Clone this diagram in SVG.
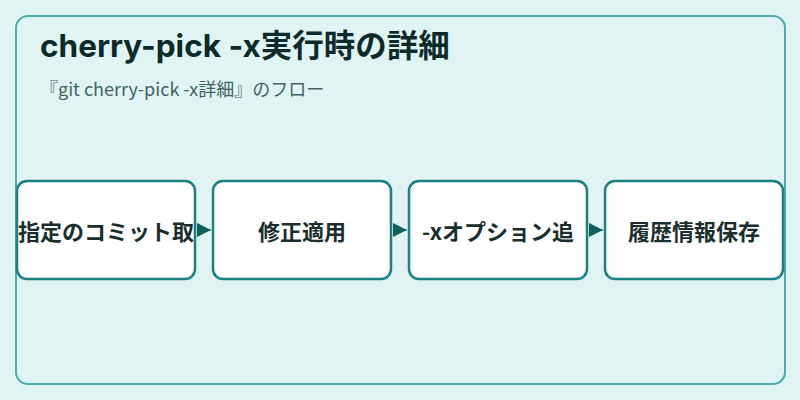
<svg xmlns="http://www.w3.org/2000/svg" width="800" height="400" viewBox="0 0 800 400">
<defs>
<style>
.frame{fill:#e0f4f3;stroke:#4aabab;stroke-width:2}
.node rect{fill:#ffffff;stroke:#1b8080;stroke-width:2.5}
.node text{font-family:"Noto Sans CJK JP",sans-serif;font-weight:700;font-size:22px;fill:#1a2e2e;text-anchor:middle;dominant-baseline:central}
.title{font-family:Inter,"Noto Sans CJK JP",sans-serif;font-weight:700;font-size:31.5px;fill:#0d2b2b}
.sub{font-family:"Noto Sans CJK JP",sans-serif;font-size:18px;fill:#3d6464}
.edge{stroke:#155e5e;stroke-width:1;fill:none}
</style>
<marker id="arr" viewBox="0 0 14 14" refX="14" refY="7" markerWidth="14" markerHeight="14" markerUnits="userSpaceOnUse" orient="auto">
<path d="M0,0 L14,7 L0,14 Z" fill="#155e5e"/>
</marker>
</defs>
<rect width="800" height="400" fill="#e0f4f3"/>
<rect class="frame" x="16" y="16" width="769" height="368" rx="12"/>
<text class="title" x="40" y="57">cherry-pick -x実行時の詳細</text>
<text class="sub" x="40" y="96">『git cherry-pick -x詳細』のフロー</text>
<g id="connectors">
<path class="edge" d="M198,230 L211,230" marker-end="url(#arr)"/>
<path class="edge" d="M394,230 L407,230" marker-end="url(#arr)"/>
<path class="edge" d="M590,230 L603,230" marker-end="url(#arr)"/>
</g>
<g id="n1" class="node"><rect x="17" y="181" width="178" height="98" rx="10"/><text x="106" y="230">指定のコミット取</text></g>
<g id="n2" class="node"><rect x="213" y="181" width="178" height="98" rx="10"/><text x="302" y="230">修正適用</text></g>
<g id="n3" class="node"><rect x="409" y="181" width="178" height="98" rx="10"/><text x="498" y="230">-xオプション追</text></g>
<g id="n4" class="node"><rect x="605" y="181" width="178" height="98" rx="10"/><text x="694" y="230">履歴情報保存</text></g>
</svg>
